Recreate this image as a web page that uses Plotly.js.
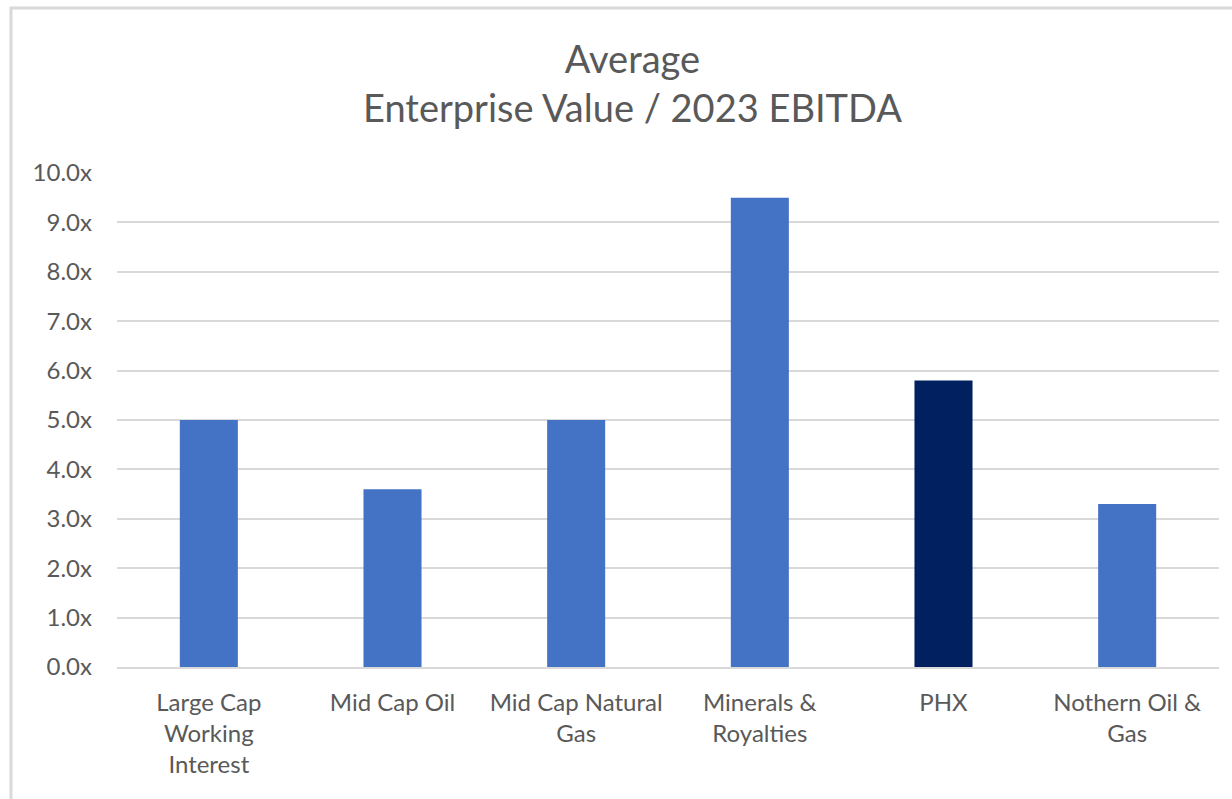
<!DOCTYPE html>
<html>
<head>
<meta charset="utf-8">
<script src="https://cdn.plot.ly/plotly-3.0.1.min.js"></script>
<style>html,body{margin:0;padding:0;background:#fff;}#chart{width:1232px;height:799px;}</style>
</head>
<body>
<div id="chart"></div>
<script>
const categories = ["Large Cap<br>Working<br>Interest", "Mid Cap Oil", "Mid Cap Natural<br>Gas", "Minerals &<br>Royalties", "PHX", "Nothern Oil &<br>Gas"];
const values = [5.0, 3.6, 5.0, 9.5, 5.8, 3.3];
const barColors = ["#4472C4", "#4472C4", "#4472C4", "#4472C4", "#002060", "#4472C4"];
const yTickValues = [0,1,2,3,4,5,6,7,8,9,10];
const yTickLabels = ["0.0x","1.0x","2.0x","3.0x","4.0x","5.0x","6.0x","7.0x","8.0x","9.0x","10.0x"];
const titleText = "Average<br>Enterprise Value / 2023 EBITDA";

const FONT = "Lato, 'Noto Sans', sans-serif";
const trace = {
  type: "bar",
  x: categories,
  y: values,
  marker: {color: barColors, line: {width: 0}},
  hoverinfo: "skip"
};
const layout = {
  width: 1232, height: 799,
  margin: {l: 117, r: 13, t: 173, b: 132},
  paper_bgcolor: "#ffffff",
  plot_bgcolor: "#ffffff",
  showlegend: false,
  bargap: 0.684,
  xaxis: {
    type: "category",
    showgrid: false, zeroline: false,
    showline: true, linecolor: "#d9d9d9", linewidth: 2,
    ticks: "", tickfont: {family: FONT, size: 24, color: "#595959"},
    ticklabelstandoff: 13,
    fixedrange: true
  },
  yaxis: {
    range: [0, 10],
    tickvals: yTickValues, ticktext: yTickLabels,
    showgrid: true, gridcolor: "#d9d9d9", gridwidth: 2,
    zeroline: false, showline: false, ticks: "",
    tickfont: {family: FONT, size: 24, color: "#595959"},
    ticklabelstandoff: 24,
    fixedrange: true
  },
  annotations: [{
    text: titleText, xref: "paper", yref: "paper", x: 0.4678, y: 1.183,
    xanchor: "center", yanchor: "middle", showarrow: false,
    font: {family: FONT, size: 38, color: "#595959"}
  }],
  shapes: [{type: "rect", xref: "paper", yref: "paper", x0: -0.0962, x1: 1.05, y0: -0.30, y1: 1.334, line: {color: "#d9d9d9", width: 3}, fillcolor: "rgba(0,0,0,0)", layer: "below"}]
};
Plotly.newPlot("chart", [trace], layout, {displayModeBar: false, staticPlot: true});
</script>
</body>
</html>
